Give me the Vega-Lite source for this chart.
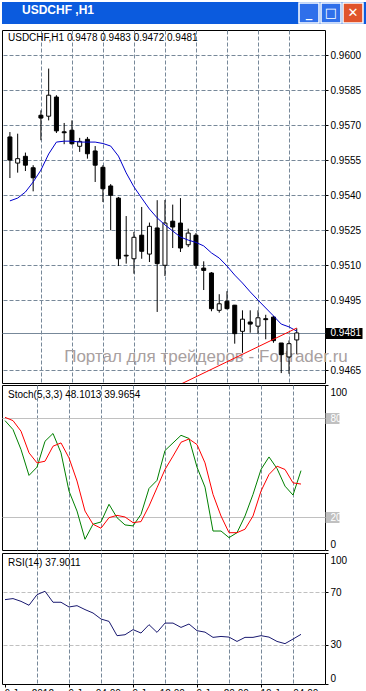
{
  "$schema": "https://vega.github.io/schema/vega-lite/v6.json",
  "background": "white",
  "padding": {"left": 1, "top": 0, "right": 0, "bottom": 0},
  "config": {
    "font": "Liberation Sans",
    "view": {"stroke": "black", "strokeWidth": 1},
    "axis": {"labelFont": "Liberation Sans", "labelFontSize": 10, "labelColor": "black", "tickColor": "black", "domain": false, "title": null, "labelOverlap": false, "labelFlush": false, "labelBound": false},
    "title": {"font": "Liberation Sans", "fontSize": 10, "fontWeight": "normal", "color": "black"}
  },
  "datasets": {
    "bars": [
      {"idx": 0, "o": 0.95650, "h": 0.95671, "l": 0.95474, "c": 0.95551, "ma": 0.95376, "k": 78.4, "d": 80.4, "rsi": 64.4},
      {"idx": 1, "o": 0.95538, "h": 0.95664, "l": 0.95497, "c": 0.95557, "ma": 0.95388, "k": 73.0, "d": 78.4, "rsi": 65.2},
      {"idx": 2, "o": 0.95567, "h": 0.95583, "l": 0.95504, "c": 0.95529, "ma": 0.95414, "k": 60.9, "d": 72.0, "rsi": 63.1},
      {"idx": 3, "o": 0.95518, "h": 0.95529, "l": 0.95417, "c": 0.95475, "ma": 0.95457, "k": 45.2, "d": 58.9, "rsi": 60.1},
      {"idx": 4, "o": 0.95743, "h": 0.95764, "l": 0.95636, "c": 0.95731, "ma": 0.95508, "k": 50.2, "d": 52.8, "rsi": 68.2},
      {"idx": 5, "o": 0.95739, "h": 0.95943, "l": 0.95721, "c": 0.95829, "ma": 0.95577, "k": 65.9, "d": 53.8, "rsi": 70.8},
      {"idx": 6, "o": 0.95821, "h": 0.95829, "l": 0.95667, "c": 0.95676, "ma": 0.95628, "k": 70.6, "d": 62.9, "rsi": 62.4},
      {"idx": 7, "o": 0.95672, "h": 0.95710, "l": 0.95619, "c": 0.95668, "ma": 0.95632, "k": 58.9, "d": 64.9, "rsi": 62.4},
      {"idx": 8, "o": 0.95679, "h": 0.95721, "l": 0.95617, "c": 0.95621, "ma": 0.95632, "k": 35.7, "d": 55.8, "rsi": 58.8},
      {"idx": 9, "o": 0.95610, "h": 0.95646, "l": 0.95586, "c": 0.95631, "ma": 0.95628, "k": 23.6, "d": 41.8, "rsi": 59.8},
      {"idx": 10, "o": 0.95640, "h": 0.95650, "l": 0.95557, "c": 0.95578, "ma": 0.95628, "k": 6.5, "d": 23.6, "rsi": 56.8},
      {"idx": 11, "o": 0.95590, "h": 0.95611, "l": 0.95457, "c": 0.95529, "ma": 0.95628, "k": 15.6, "d": 15.6, "rsi": 54.2},
      {"idx": 12, "o": 0.95520, "h": 0.95529, "l": 0.95371, "c": 0.95428, "ma": 0.95622, "k": 17.0, "d": 13.2, "rsi": 49.6},
      {"idx": 13, "o": 0.95440, "h": 0.95448, "l": 0.95250, "c": 0.95400, "ma": 0.95611, "k": 27.7, "d": 19.6, "rsi": 47.8},
      {"idx": 14, "o": 0.95388, "h": 0.95393, "l": 0.95097, "c": 0.95128, "ma": 0.95568, "k": 19.6, "d": 21.0, "rsi": 36.9},
      {"idx": 15, "o": 0.95143, "h": 0.95311, "l": 0.95107, "c": 0.95140, "ma": 0.95496, "k": 15.2, "d": 20.0, "rsi": 37.6},
      {"idx": 16, "o": 0.95128, "h": 0.95243, "l": 0.95064, "c": 0.95220, "ma": 0.95436, "k": 14.6, "d": 16.6, "rsi": 41.5},
      {"idx": 17, "o": 0.95229, "h": 0.95350, "l": 0.95128, "c": 0.95160, "ma": 0.95388, "k": 21.6, "d": 17.2, "rsi": 38.9},
      {"idx": 18, "o": 0.95148, "h": 0.95283, "l": 0.95114, "c": 0.95267, "ma": 0.95341, "k": 37.3, "d": 26.6, "rsi": 45.3},
      {"idx": 19, "o": 0.95260, "h": 0.95379, "l": 0.94900, "c": 0.95107, "ma": 0.95303, "k": 42.2, "d": 37.7, "rsi": 39.4},
      {"idx": 20, "o": 0.95100, "h": 0.95380, "l": 0.95054, "c": 0.95281, "ma": 0.95273, "k": 60.3, "d": 48.8, "rsi": 46.5},
      {"idx": 21, "o": 0.95289, "h": 0.95360, "l": 0.95174, "c": 0.95264, "ma": 0.95247, "k": 64.9, "d": 56.9, "rsi": 46.5},
      {"idx": 22, "o": 0.95281, "h": 0.95388, "l": 0.95157, "c": 0.95174, "ma": 0.95221, "k": 69.5, "d": 65.3, "rsi": 43.2},
      {"idx": 23, "o": 0.95188, "h": 0.95257, "l": 0.95178, "c": 0.95238, "ma": 0.95208, "k": 67.6, "d": 67.3, "rsi": 45.8},
      {"idx": 24, "o": 0.95229, "h": 0.95238, "l": 0.95085, "c": 0.95100, "ma": 0.95198, "k": 50.2, "d": 63.9, "rsi": 40.7},
      {"idx": 25, "o": 0.95088, "h": 0.95117, "l": 0.94994, "c": 0.95078, "ma": 0.95183, "k": 38.1, "d": 52.8, "rsi": 39.6},
      {"idx": 26, "o": 0.95067, "h": 0.95071, "l": 0.94903, "c": 0.94914, "ma": 0.95153, "k": 11.5, "d": 33.7, "rsi": 35.6},
      {"idx": 27, "o": 0.94907, "h": 0.94976, "l": 0.94897, "c": 0.94935, "ma": 0.95131, "k": 11.5, "d": 20.6, "rsi": 36.3},
      {"idx": 28, "o": 0.94946, "h": 0.94989, "l": 0.94911, "c": 0.94914, "ma": 0.95097, "k": 7.5, "d": 10.5, "rsi": 35.8},
      {"idx": 29, "o": 0.94929, "h": 0.94930, "l": 0.94764, "c": 0.94807, "ma": 0.95058, "k": 10.5, "d": 10.5, "rsi": 32.5},
      {"idx": 30, "o": 0.94817, "h": 0.94907, "l": 0.94725, "c": 0.94869, "ma": 0.95024, "k": 20.6, "d": 12.6, "rsi": 35.6},
      {"idx": 31, "o": 0.94857, "h": 0.94907, "l": 0.94811, "c": 0.94848, "ma": 0.94986, "k": 33.7, "d": 20.6, "rsi": 35.6},
      {"idx": 32, "o": 0.94839, "h": 0.94907, "l": 0.94807, "c": 0.94875, "ma": 0.94951, "k": 48.8, "d": 35.7, "rsi": 36.9},
      {"idx": 33, "o": 0.94871, "h": 0.94888, "l": 0.94783, "c": 0.94867, "ma": 0.94917, "k": 56.4, "d": 45.8, "rsi": 35.8},
      {"idx": 34, "o": 0.94878, "h": 0.94883, "l": 0.94768, "c": 0.94777, "ma": 0.94883, "k": 49.4, "d": 50.8, "rsi": 32.5},
      {"idx": 35, "o": 0.94767, "h": 0.94767, "l": 0.94638, "c": 0.94717, "ma": 0.94848, "k": 38.7, "d": 48.8, "rsi": 30.8},
      {"idx": 36, "o": 0.94707, "h": 0.94778, "l": 0.94635, "c": 0.94764, "ma": 0.94836, "k": 33.3, "d": 40.7, "rsi": 34.3},
      {"idx": 37, "o": 0.94780, "h": 0.94830, "l": 0.94720, "c": 0.94810, "ma": 0.94818, "k": 48.1013, "d": 39.9654, "rsi": 37.9011}
    ],
    "trend": [{"idx": 22, "p": 0.9459}, {"idx": 37, "p": 0.94831}],
    "watermark": [{"text": "Портал для трейдеров - Fortrader.ru"}],
    "buttons": [{"b": "min", "glyph": "_"}, {"b": "max", "glyph": "□"}, {"b": "close", "glyph": "✕"}]
  },
  "bounds": "flush",
  "spacing": 6,
  "vconcat": [
    {
      "width": 365,
      "height": 22,
      "view": {"fill": "#0B5BDE", "stroke": null},
      "title": {"text": "USDCHF ,H1", "anchor": "start", "frame": "group", "offset": 0, "baseline": "top", "dy": 17, "dx": 20, "color": "white", "fontSize": 12, "fontWeight": "bold"},
      "data": {"name": "buttons"},
      "layer": [
        {
          "mark": {"type": "point", "shape": "square", "size": 400, "filled": true, "stroke": "white", "strokeWidth": 1.5, "opacity": 1},
          "encoding": {
            "x": {"field": "b", "type": "nominal", "scale": {"type": "point", "domain": ["min", "max", "close"], "range": [307, 351], "padding": 0}, "axis": null},
            "fill": {"field": "b", "type": "nominal", "scale": {"domain": ["min", "max", "close"], "range": ["#2F6FEA", "#2F6FEA", "#E0542C"]}, "legend": null}
          }
        },
        {
          "mark": {"type": "text", "color": "white", "fontSize": 13, "fontWeight": "bold", "font": "DejaVu Sans", "baseline": "middle"},
          "encoding": {
            "x": {"field": "b", "type": "nominal", "scale": {"type": "point", "domain": ["min", "max", "close"], "range": [307, 351], "padding": 0}, "axis": null},
            "text": {"field": "glyph"}
          }
        }
      ]
    },
    {
      "bounds": "flush",
      "spacing": 2,
      "vconcat": [
        {
          "width": 323,
          "height": 353,
          "title": {"text": "USDCHF,H1  0.9478 0.9483 0.9472 0.9481", "anchor": "start", "frame": "group", "offset": 0, "baseline": "top", "dy": 13, "dx": 6},
          "layer": [
            {
              "data": {"name": "watermark"},
              "mark": {"type": "text", "align": "left", "baseline": "middle", "fontSize": 17, "color": "#A8A0A0"},
              "encoding": {
                "x": {"datum": 7.0, "type": "quantitative", "scale": {"domain": [-0.375, 40], "nice": false, "zero": false},
                      "axis": {"orient": "bottom", "values": [4, 8, 12, 16, 20, 24, 28, 32, 36], "tickCount": 50, "labels": false, "ticks": false, "domain": false, "grid": true, "gridColor": "#778899", "gridDash": [4, 2]}},
                "y": {"datum": 0.94706, "type": "quantitative", "scale": {"domain": [0.945955, 0.961084], "nice": false, "zero": false},
                      "axis": {"orient": "right", "values": [0.9465, 0.9481, 0.9495, 0.951, 0.9525, 0.954, 0.9555, 0.957, 0.9585, 0.96], "tickCount": 50, "labelOverlap": false, "format": ".4f", "grid": true,
                               "gridColor": "#778899",
                               "gridDash": {"condition": {"test": "abs(datum.value - 0.9481) < 0.000001", "value": []}, "value": [4, 2]},
                               "tickSize": {"condition": {"test": "abs(datum.value - 0.9481) < 0.000001", "value": 37}, "value": 3},
                               "tickWidth": {"condition": {"test": "abs(datum.value - 0.9481) < 0.000001", "value": 11}, "value": 1},
                               "labelColor": {"condition": {"test": "abs(datum.value - 0.9481) < 0.000001", "value": "white"}, "value": "black"},
                               "labelPadding": {"condition": {"test": "abs(datum.value - 0.9481) < 0.000001", "value": -32}, "value": 2}}},
                "text": {"field": "text"}
              }
            },
            {
              "data": {"name": "bars"},
              "mark": {"type": "rule", "color": "black", "strokeWidth": 1},
              "encoding": {
                "x": {"field": "idx", "type": "quantitative", "scale": {"domain": [-0.375, 40], "nice": false, "zero": false}},
                "y": {"field": "l", "type": "quantitative", "scale": {"domain": [0.945955, 0.961084], "nice": false, "zero": false}},
                "y2": {"field": "h"}
              }
            },
            {
              "data": {"name": "bars"},
              "mark": {"type": "bar", "width": 4, "stroke": "black", "strokeWidth": 1},
              "encoding": {
                "x": {"field": "idx", "type": "quantitative", "scale": {"domain": [-0.375, 40], "nice": false, "zero": false}},
                "y": {"field": "o", "type": "quantitative", "scale": {"domain": [0.945955, 0.961084], "nice": false, "zero": false}},
                "y2": {"field": "c"},
                "fill": {"condition": {"test": "datum.c >= datum.o", "value": "white"}, "value": "black"}
              }
            },
            {
              "data": {"name": "bars"},
              "mark": {"type": "line", "color": "#0000CD", "strokeWidth": 1},
              "encoding": {
                "x": {"field": "idx", "type": "quantitative", "scale": {"domain": [-0.375, 40], "nice": false, "zero": false}},
                "y": {"field": "ma", "type": "quantitative", "scale": {"domain": [0.945955, 0.961084], "nice": false, "zero": false}}
              }
            },
            {
              "data": {"name": "trend"},
              "mark": {"type": "line", "color": "#FF0000", "strokeWidth": 1, "clip": true},
              "encoding": {
                "x": {"field": "idx", "type": "quantitative", "scale": {"domain": [-0.375, 40], "nice": false, "zero": false}},
                "y": {"field": "p", "type": "quantitative", "scale": {"domain": [0.945955, 0.961084], "nice": false, "zero": false}}
              }
            }
          ]
        },
        {
          "bounds": "flush",
          "spacing": 3,
          "vconcat": [
            {
              "width": 323,
              "height": 165,
              "title": {"text": "Stoch(5,3,3) 48.1013 39.9654", "anchor": "start", "frame": "group", "offset": 0, "baseline": "top", "dy": 15, "dx": 6},
              "data": {"name": "bars"},
              "layer": [
                {
                  "mark": {"type": "line", "color": "#008000", "strokeWidth": 1},
                  "encoding": {
                    "x": {"field": "idx", "type": "quantitative", "scale": {"domain": [-0.375, 40], "nice": false, "zero": false},
                          "axis": {"orient": "bottom", "values": [4, 8, 12, 16, 20, 24, 28, 32, 36], "tickCount": 50, "labels": false, "ticks": false, "domain": false, "grid": true, "gridColor": "#778899", "gridDash": [4, 2]}},
                    "y": {"field": "k", "type": "quantitative", "scale": {"domain": [0, 100], "nice": false, "zero": false},
                          "axis": {"orient": "right", "values": [0, 20, 80, 100], "tickCount": 50, "labelOverlap": false, "grid": true, "gridColor": "#C0C0C0",
                                   "gridOpacity": {"condition": {"test": "datum.value == 20 || datum.value == 80", "value": 1}, "value": 0},
                                   "tickSize": {"condition": {"test": "datum.value == 20 || datum.value == 80", "value": 14}, "value": 3},
                                   "tickWidth": {"condition": {"test": "datum.value == 20 || datum.value == 80", "value": 11}, "value": 1},
                                   "tickColor": {"condition": {"test": "datum.value == 20 || datum.value == 80", "value": "#C0C0C0"}, "value": "black"},
                                   "labelColor": {"condition": {"test": "datum.value == 20 || datum.value == 80", "value": "white"}, "value": "black"},
                                   "labelPadding": {"condition": {"test": "datum.value == 20 || datum.value == 80", "value": -9}, "value": 2},
                                   "labelOffset": {"condition": [{"test": "datum.value == 100", "value": 7}, {"test": "datum.value == 0", "value": -6}], "value": 0}}}
                  }
                },
                {
                  "mark": {"type": "line", "color": "#FF0000", "strokeWidth": 1},
                  "encoding": {
                    "x": {"field": "idx", "type": "quantitative", "scale": {"domain": [-0.375, 40], "nice": false, "zero": false}},
                    "y": {"field": "d", "type": "quantitative", "scale": {"domain": [0, 100], "nice": false, "zero": false}}
                  }
                }
              ]
            },
            {
              "width": 323,
              "height": 131,
              "title": {"text": "RSI(14) 37.9011", "anchor": "start", "frame": "group", "offset": 0, "baseline": "top", "dy": 15, "dx": 6},
              "data": {"name": "bars"},
              "mark": {"type": "line", "color": "#191970", "strokeWidth": 1},
              "encoding": {
                "x": {"field": "idx", "type": "quantitative", "scale": {"domain": [-0.375, 40], "nice": false, "zero": false},
                      "axis": {"orient": "bottom", "values": [0, 4, 8, 12, 16, 20, 24, 28, 32, 36], "tickCount": 50, "labelOverlap": false, "domain": false, "grid": true, "gridColor": "#778899", "gridDash": [4, 2],
                               "gridOpacity": {"condition": {"test": "datum.value === 0", "value": 0}, "value": 1},
                               "tickOpacity": {"condition": {"test": "datum.value % 8 === 0 && datum.value <= 32", "value": 1}, "value": 0},
                               "tickSize": 3, "labelPadding": 1, "labelAlign": "left", "labelOffset": -1,
                               "labelExpr": "datum.value == 0 ? '6 Jan 2012' : datum.value == 8 ? '9 Jan 04:00' : datum.value == 16 ? '9 Jan 12:00' : datum.value == 24 ? '9 Jan 20:00' : datum.value == 32 ? '10 Jan 04:00' : ''"}},
                "y": {"field": "rsi", "type": "quantitative", "scale": {"domain": [0, 100], "nice": false, "zero": false},
                      "axis": {"orient": "right", "values": [0, 30, 70, 100], "tickCount": 50, "labelOverlap": false, "grid": true, "gridColor": "#C0C0C0", "gridDash": [4, 2],
                               "gridOpacity": {"condition": {"test": "datum.value == 30 || datum.value == 70", "value": 1}, "value": 0},
                               "tickSize": 3, "labelPadding": 2,
                               "labelOffset": {"condition": [{"test": "datum.value == 100", "value": 7}, {"test": "datum.value == 0", "value": -6}], "value": 0}}}
              }
            }
          ]
        }
      ]
    }
  ]
}
